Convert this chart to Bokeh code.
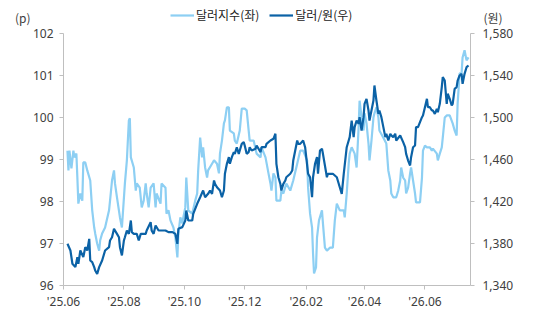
import pandas as pd
from bokeh.plotting import figure
from bokeh.layouts import column
from bokeh.models import (Range1d, LinearAxis, FixedTicker, DatetimeTickFormatter,
                          NumeralTickFormatter, Legend, LegendItem, ColumnDataSource)
from bokeh.embed import file_html
from bokeh.resources import INLINE

# ---------------- data ----------------
dxy_dates = [
    "2025-06-05", "2025-06-06", "2025-06-07", "2025-06-09", "2025-06-11", "2025-06-12", "2025-06-14", "2025-06-15",
    "2025-06-16", "2025-06-18", "2025-06-20", "2025-06-21", "2025-06-23", "2025-06-25", "2025-06-28", "2025-06-30",
    "2025-07-02", "2025-07-03", "2025-07-05", "2025-07-07", "2025-07-08", "2025-07-10", "2025-07-13", "2025-07-17",
    "2025-07-18", "2025-07-20", "2025-07-22", "2025-07-23", "2025-07-25", "2025-07-28", "2025-07-30", "2025-08-02",
    "2025-08-04", "2025-08-06", "2025-08-07", "2025-08-08", "2025-08-11", "2025-08-13", "2025-08-14", "2025-08-17",
    "2025-08-19", "2025-08-21", "2025-08-23", "2025-08-24", "2025-08-26", "2025-08-28", "2025-08-31", "2025-09-02",
    "2025-09-03", "2025-09-07", "2025-09-08", "2025-09-12", "2025-09-13", "2025-09-15", "2025-09-17", "2025-09-20",
    "2025-09-22", "2025-09-24", "2025-09-25", "2025-09-27", "2025-09-29", "2025-09-30", "2025-10-02", "2025-10-03",
    "2025-10-05", "2025-10-09", "2025-10-12", "2025-10-14", "2025-10-15", "2025-10-17", "2025-10-19", "2025-10-20",
    "2025-10-22", "2025-10-24", "2025-10-25", "2025-10-29", "2025-10-31", "2025-11-03", "2025-11-05", "2025-11-06",
    "2025-11-08", "2025-11-10", "2025-11-11", "2025-11-13", "2025-11-15", "2025-11-16", "2025-11-20", "2025-11-21",
    "2025-11-23", "2025-11-26", "2025-11-28", "2025-12-01", "2025-12-03", "2025-12-05", "2025-12-06", "2025-12-10",
    "2025-12-13", "2025-12-17", "2025-12-18", "2025-12-22", "2025-12-25", "2025-12-27", "2025-12-28", "2025-12-30",
    "2026-01-01", "2026-01-02", "2026-01-06", "2026-01-07", "2026-01-09", "2026-01-12", "2026-01-16", "2026-01-19",
    "2026-01-23", "2026-01-26", "2026-01-29", "2026-02-02", "2026-02-03", "2026-02-05", "2026-02-07", "2026-02-08",
    "2026-02-09", "2026-02-11", "2026-02-12", "2026-02-14", "2026-02-17", "2026-02-18", "2026-02-20", "2026-02-22",
    "2026-02-25", "2026-02-28", "2026-03-02", "2026-03-04", "2026-03-07", "2026-03-11", "2026-03-12", "2026-03-14",
    "2026-03-16", "2026-03-17", "2026-03-19", "2026-03-22", "2026-03-24", "2026-03-26", "2026-03-27", "2026-03-29",
    "2026-03-31", "2026-04-01", "2026-04-03", "2026-04-05", "2026-04-06", "2026-04-08", "2026-04-10", "2026-04-11",
    "2026-04-13", "2026-04-15", "2026-04-16", "2026-04-20", "2026-04-23", "2026-04-25", "2026-04-27", "2026-04-28",
    "2026-04-30", "2026-05-03", "2026-05-05", "2026-05-07", "2026-05-08", "2026-05-10", "2026-05-12", "2026-05-13",
    "2026-05-15", "2026-05-17", "2026-05-18", "2026-05-20", "2026-05-22", "2026-05-23", "2026-05-27", "2026-05-29",
    "2026-05-30", "2026-06-01", "2026-06-03", "2026-06-06", "2026-06-08", "2026-06-09", "2026-06-13", "2026-06-14",
    "2026-06-16", "2026-06-18", "2026-06-19", "2026-06-21", "2026-06-23", "2026-06-26", "2026-06-29", "2026-07-01",
    "2026-07-03", "2026-07-04", "2026-07-06", "2026-07-08", "2026-07-09", "2026-07-11", "2026-07-13", "2026-07-15",
]
dxy_values = [
    99.21, 98.74, 99.21, 98.79, 99.21, 99.05, 99.14, 98.57,
    97.95, 98.19, 98.02, 98.93, 98.93, 98.74, 98.50, 97.79,
    97.38, 97.24, 97.00, 96.83, 97.07, 97.24, 97.38, 97.79,
    98.02, 98.50, 98.74, 98.43, 98.10, 97.62, 97.38, 98.43,
    98.98, 99.93, 99.98, 99.05, 98.81, 98.26, 98.43, 98.33,
    97.86, 98.02, 98.43, 98.19, 97.86, 98.33, 98.43, 97.86,
    98.19, 97.95, 98.43, 98.33, 97.71, 97.79, 97.55, 97.38,
    97.14, 96.67, 97.24, 97.62, 97.48, 97.62, 97.86, 98.57,
    97.79, 97.71, 98.02, 98.19, 98.74, 99.52, 99.05, 99.29,
    98.81, 98.57, 98.74, 98.90, 98.98, 98.90, 98.67, 99.14,
    99.45, 99.86, 99.93, 100.24, 100.24, 99.69, 99.62, 99.45,
    99.38, 99.69, 100.21, 100.21, 100.17, 99.69, 99.45, 99.45,
    99.14, 99.05, 99.29, 99.05, 98.67, 98.43, 98.26, 98.67,
    98.57, 98.02, 98.02, 98.26, 98.19, 98.43, 98.26, 98.50,
    98.90, 99.21, 99.21, 98.98, 98.33, 97.71, 97.38, 96.76,
    96.29, 96.43, 97.14, 97.55, 97.79, 97.48, 96.90, 96.83,
    96.90, 96.90, 97.55, 97.95, 97.79, 97.79, 97.62, 98.19,
    98.90, 99.14, 99.29, 99.14, 98.81, 99.76, 100.40, 100.00,
    99.69, 100.10, 99.86, 99.38, 98.98, 99.45, 100.00, 100.10,
    100.24, 100.00, 99.69, 99.52, 99.38, 98.74, 98.50, 98.19,
    98.10, 98.10, 98.26, 98.50, 98.81, 98.57, 98.50, 98.19,
    98.33, 98.67, 98.81, 98.50, 98.19, 97.98, 97.98, 98.57,
    99.21, 99.33, 99.29, 99.29, 99.21, 99.26, 99.14, 98.98,
    99.14, 99.29, 99.52, 100.00, 100.05, 100.05, 99.86, 99.69,
    99.57, 100.33, 101.05, 101.05, 101.43, 101.60, 101.36, 101.43,
]

krw_dates = [
    "2025-06-05", "2025-06-08", "2025-06-10", "2025-06-13", "2025-06-15", "2025-06-16", "2025-06-18", "2025-06-21",
    "2025-06-23", "2025-06-25", "2025-06-27", "2025-06-28", "2025-06-30", "2025-07-02", "2025-07-03", "2025-07-05",
    "2025-07-07", "2025-07-10", "2025-07-13", "2025-07-17", "2025-07-18", "2025-07-20", "2025-07-22", "2025-07-23",
    "2025-07-25", "2025-07-27", "2025-07-28", "2025-07-30", "2025-08-01", "2025-08-02", "2025-08-04", "2025-08-06",
    "2025-08-08", "2025-08-09", "2025-08-11", "2025-08-14", "2025-08-16", "2025-08-18", "2025-08-23", "2025-08-24",
    "2025-08-28", "2025-08-29", "2025-08-31", "2025-09-02", "2025-09-05", "2025-09-12", "2025-09-15", "2025-09-19",
    "2025-09-22", "2025-09-24", "2025-09-25", "2025-09-29", "2025-10-02", "2025-10-03", "2025-10-05", "2025-10-09",
    "2025-10-10", "2025-10-14", "2025-10-17", "2025-10-20", "2025-10-22", "2025-10-25", "2025-10-27", "2025-10-29",
    "2025-10-31", "2025-11-01", "2025-11-03", "2025-11-06", "2025-11-08", "2025-11-10", "2025-11-11", "2025-11-13",
    "2025-11-15", "2025-11-16", "2025-11-18", "2025-11-20", "2025-11-21", "2025-11-23", "2025-11-25", "2025-11-26",
    "2025-11-28", "2025-11-30", "2025-12-01", "2025-12-03", "2025-12-05", "2025-12-06", "2025-12-08", "2025-12-12",
    "2025-12-13", "2025-12-17", "2025-12-18", "2025-12-22", "2025-12-23", "2025-12-27", "2025-12-30", "2026-01-01",
    "2026-01-02", "2026-01-04", "2026-01-06", "2026-01-07", "2026-01-09", "2026-01-11", "2026-01-12", "2026-01-16",
    "2026-01-18", "2026-01-19", "2026-01-21", "2026-01-23", "2026-01-24", "2026-01-26", "2026-01-29", "2026-01-31",
    "2026-02-03", "2026-02-05", "2026-02-07", "2026-02-08", "2026-02-10", "2026-02-12", "2026-02-13", "2026-02-15",
    "2026-02-17", "2026-02-18", "2026-02-22", "2026-02-23", "2026-02-28", "2026-03-04", "2026-03-07", "2026-03-09",
    "2026-03-11", "2026-03-14", "2026-03-16", "2026-03-17", "2026-03-19", "2026-03-21", "2026-03-22", "2026-03-24",
    "2026-03-26", "2026-03-27", "2026-03-29", "2026-03-31", "2026-04-01", "2026-04-03", "2026-04-05", "2026-04-06",
    "2026-04-10", "2026-04-11", "2026-04-13", "2026-04-15", "2026-04-16", "2026-04-18", "2026-04-20", "2026-04-22",
    "2026-04-23", "2026-04-25", "2026-04-27", "2026-04-28", "2026-04-30", "2026-05-02", "2026-05-03", "2026-05-07",
    "2026-05-10", "2026-05-12", "2026-05-13", "2026-05-15", "2026-05-17", "2026-05-18", "2026-05-20", "2026-05-22",
    "2026-05-23", "2026-05-25", "2026-05-29", "2026-05-30", "2026-06-01", "2026-06-03", "2026-06-04", "2026-06-06",
    "2026-06-08", "2026-06-09", "2026-06-11", "2026-06-13", "2026-06-14", "2026-06-16", "2026-06-18", "2026-06-19",
    "2026-06-21", "2026-06-23", "2026-06-24", "2026-06-26", "2026-06-28", "2026-06-29", "2026-07-01", "2026-07-03",
    "2026-07-04", "2026-07-06", "2026-07-08", "2026-07-09", "2026-07-11", "2026-07-13", "2026-07-15",
]
krw_values = [
    1379.7, 1373.3, 1360.7, 1357.5, 1367.0, 1360.7, 1373.3, 1367.0,
    1376.5, 1373.3, 1384.4, 1363.8, 1362.2, 1357.5, 1354.3, 1351.1,
    1357.5, 1363.8, 1373.3, 1376.5, 1382.9, 1386.0, 1394.0, 1392.4,
    1389.2, 1386.0, 1376.5, 1368.6, 1382.9, 1386.0, 1392.4, 1389.2,
    1401.9, 1390.8, 1389.2, 1389.2, 1382.9, 1389.2, 1389.2, 1392.4,
    1400.3, 1392.4, 1389.2, 1397.1, 1392.4, 1392.4, 1390.8, 1390.8,
    1389.2, 1379.7, 1394.0, 1395.6, 1401.9, 1411.4, 1401.9, 1401.9,
    1408.3, 1417.8, 1424.1, 1430.5, 1424.1, 1427.3, 1430.5, 1427.3,
    1440.0, 1436.8, 1433.6, 1430.5, 1424.1, 1430.5, 1446.4, 1455.9,
    1462.2, 1455.9, 1462.2, 1467.0, 1465.4, 1471.7, 1465.4, 1468.6,
    1474.9, 1476.5, 1473.3, 1465.4, 1467.0, 1471.7, 1468.6, 1470.2,
    1473.3, 1467.0, 1471.7, 1471.7, 1474.9, 1478.1, 1479.7, 1484.5,
    1455.9, 1443.1, 1436.8, 1430.5, 1436.8, 1440.0, 1443.1, 1446.4,
    1449.5, 1459.0, 1468.6, 1478.1, 1474.9, 1474.9, 1478.1, 1471.7,
    1446.4, 1443.1, 1424.1, 1443.1, 1455.9, 1462.2, 1446.4, 1468.6,
    1470.2, 1465.4, 1443.1, 1446.4, 1446.4, 1443.1, 1433.6, 1427.3,
    1446.4, 1471.7, 1478.1, 1481.3, 1497.1, 1481.3, 1490.8, 1497.1,
    1494.0, 1500.3, 1487.6, 1500.3, 1513.0, 1517.8, 1506.7, 1497.1,
    1516.2, 1530.5, 1516.2, 1503.5, 1506.7, 1500.3, 1490.8, 1481.3,
    1484.5, 1478.1, 1484.5, 1482.9, 1481.3, 1484.5, 1478.1, 1482.9,
    1476.5, 1471.7, 1465.4, 1459.0, 1454.3, 1462.2, 1471.7, 1473.3,
    1490.8, 1490.8, 1500.3, 1501.9, 1509.8, 1517.8, 1509.8, 1509.8,
    1506.7, 1506.7, 1503.5, 1508.3, 1505.1, 1513.0, 1528.9, 1538.4,
    1535.2, 1513.0, 1522.6, 1517.8, 1511.4, 1513.0, 1527.3, 1528.9,
    1535.2, 1540.0, 1541.6, 1532.1, 1541.6, 1547.9, 1549.5,
]

x_tick_dates = ["2025-06-01", "2025-08-01", "2025-10-01", "2025-12-01",
                "2026-02-01", "2026-04-01", "2026-06-01"]
left_ticks = [96, 97, 98, 99, 100, 101, 102]
right_ticks = [1340, 1380, 1420, 1460, 1500, 1540, 1580]
series_names = ["달러지수(좌)", "달러/원(우)"]
left_unit = "(p)"
right_unit = "(원)"

DXY_COLOR = "#8DCFF3"
KRW_COLOR = "#0B62A6"
AXIS_COLOR = "#BFBFBF"
TICK_FONT = "Noto Sans"
KR_FONT = "Noto Sans CJK KR"
LABEL_COLOR = "#404040"

W = 540
HEAD_H = 26
BORDER_L = 63
BORDER_R = 70

src_dxy = ColumnDataSource(dict(x=pd.to_datetime(dxy_dates), y=dxy_values))
src_krw = ColumnDataSource(dict(x=pd.to_datetime(krw_dates), y=krw_values))

# ---------------- header strip: legend and unit captions ----------------
head = figure(width=W, height=HEAD_H, x_range=Range1d(0, 1), y_range=Range1d(0, HEAD_H),
              x_axis_location=None, y_axis_location=None,
              output_backend="svg", toolbar_location=None,
              min_border_left=BORDER_L, min_border_right=BORDER_R,
              min_border_top=0, min_border_bottom=0)
head.grid.visible = False
head.outline_line_color = None
head.background_fill_color = "white"
head.border_fill_color = "white"
# legend proxies share the series' sources; their dates fall outside this strip's range
h1 = head.line("x", "y", source=src_dxy, line_color=DXY_COLOR, line_width=2.2)
h2 = head.line("x", "y", source=src_krw, line_color=KRW_COLOR, line_width=2.2)
legend = Legend(items=[LegendItem(label=series_names[0], renderers=[h1]),
                       LegendItem(label=series_names[1], renderers=[h2])],
                location=(107, 3), orientation="horizontal",
                label_text_font=KR_FONT, label_text_font_size="12px",
                label_text_color="#222222", glyph_width=24, glyph_height=10,
                label_standoff=2, spacing=10, padding=0, margin=0,
                background_fill_alpha=0, border_line_color=None)
head.add_layout(legend, "center")

UNIT_Y = 9
for side, txt, standoff in [("left", left_unit, 33), ("right", right_unit, 13)]:
    ax = LinearAxis(ticker=FixedTicker(ticks=[UNIT_Y]), major_label_overrides={UNIT_Y: txt},
                    axis_line_color=None, major_tick_line_color=None, minor_tick_line_color=None,
                    major_tick_out=0, major_tick_in=0, major_label_standoff=standoff,
                    major_label_text_font=KR_FONT, major_label_text_font_size="12px",
                    major_label_text_color=LABEL_COLOR)
    head.add_layout(ax, side)

# ---------------- main chart ----------------
x_start = pd.Timestamp("2025-06-01")
x_end = pd.Timestamp("2026-07-17")

p = figure(width=W, height=313 - HEAD_H, x_axis_type="datetime",
           x_range=Range1d(x_start, x_end), y_range=Range1d(left_ticks[0], left_ticks[-1]),
           output_backend="svg", toolbar_location=None,
           min_border_left=BORDER_L, min_border_right=BORDER_R,
           min_border_top=33 - HEAD_H, min_border_bottom=28)
p.outline_line_color = None
p.xgrid.visible = False
p.ygrid.visible = False
p.background_fill_color = "white"
p.border_fill_color = "white"

p.extra_y_ranges = {"krw": Range1d(right_ticks[0], right_ticks[-1])}

# bottom axis
xa = p.xaxis[0]
xa.ticker = FixedTicker(ticks=[pd.Timestamp(d).value / 1e6 for d in x_tick_dates])
xa.formatter = DatetimeTickFormatter(months="'%y.%m", days="'%y.%m", years="'%y.%m")
xa.axis_line_color = AXIS_COLOR
xa.major_tick_line_color = AXIS_COLOR
xa.major_tick_out = 4
xa.major_tick_in = 0
xa.minor_tick_line_color = None
xa.major_label_text_font = TICK_FONT
xa.major_label_text_font_size = "12px"
xa.major_label_text_color = LABEL_COLOR
xa.major_label_standoff = 3

# left axis
ya = p.yaxis[0]
ya.ticker = FixedTicker(ticks=left_ticks)
ya.axis_line_color = AXIS_COLOR
ya.major_tick_line_color = AXIS_COLOR
ya.major_tick_out = 4
ya.major_tick_in = 0
ya.minor_tick_line_color = None
ya.major_label_text_font = TICK_FONT
ya.major_label_text_font_size = "12px"
ya.major_label_text_color = LABEL_COLOR
ya.major_label_standoff = 6

# right axis
ra = LinearAxis(y_range_name="krw", ticker=FixedTicker(ticks=right_ticks),
                formatter=NumeralTickFormatter(format="0,0"))
ra.axis_line_color = AXIS_COLOR
ra.major_tick_line_color = AXIS_COLOR
ra.major_tick_out = 4
ra.major_tick_in = 0
ra.minor_tick_line_color = None
ra.major_label_text_font = TICK_FONT
ra.major_label_text_font_size = "12px"
ra.major_label_text_color = LABEL_COLOR
ra.major_label_standoff = 8
p.add_layout(ra, "right")

# lines
p.line("x", "y", source=src_dxy, line_color=DXY_COLOR, line_width=2.2)
p.line("x", "y", source=src_krw, line_color=KRW_COLOR, line_width=2.2, y_range_name="krw")

layout = column(head, p, spacing=0)
open("out.html", "w").write(file_html(layout, INLINE))
